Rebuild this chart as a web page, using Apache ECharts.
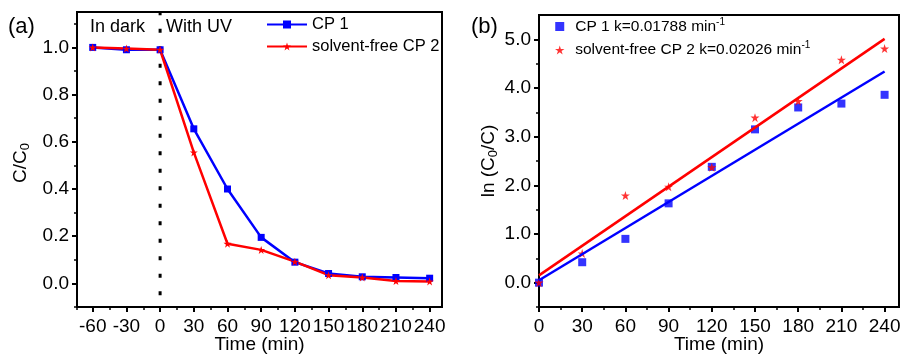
<!DOCTYPE html>
<html>
<head>
<meta charset="utf-8">
<script src="https://cdn.jsdelivr.net/npm/echarts@6/dist/echarts.min.js"></script>
<style>
  html, body { margin: 0; padding: 0; background: #fff; }
  #chart { width: 902px; height: 356px; }
</style>
</head>
<body>
<div id="chart"></div>
<script>
// (a) degradation curves
var times = [-60, -30, 0, 30, 60, 90, 120, 150, 180, 210, 240];
var cp1Ratio = [1.0, 0.99, 0.99, 0.655, 0.40, 0.195, 0.09, 0.042, 0.028, 0.025, 0.022];
var cp2Ratio = [1.0, 0.995, 0.99, 0.555, 0.168, 0.142, 0.092, 0.035, 0.025, 0.01, 0.008];
var darkLine = [[0, -0.05], [0, 1.15]];

// (b) kinetics
var kinTimes = [0, 30, 60, 90, 120, 150, 180, 210, 240];
var cp1Ln = [0, 0.42, 0.9, 1.63, 2.38, 3.15, 3.6, 3.68, 3.86];
var cp2Ln = [0, 0.6, 1.79, 1.97, 2.37, 3.39, 3.73, 4.58, 4.81];
var cp1Fit = [[0, 0.05], [240, 4.34]];
var cp2Fit = [[0, 0.15], [240, 5.01]];
var kCp1 = '0.01788';
var kCp2 = '0.02026';

// tick labels
var xTicksA = [-60, -30, 0, 30, 60, 90, 120, 150, 180, 210, 240];
var xMinorA = [-74, -45, -15, 15, 45, 75, 105, 135, 165, 195, 225];
var yTicksA = [0, 0.2, 0.4, 0.6, 0.8, 1.0];
var yMinorA = [-0.1, 0.1, 0.3, 0.5, 0.7, 0.9, 1.1];
var xTicksB = [0, 30, 60, 90, 120, 150, 180, 210, 240];
var xMinorB = [15, 45, 75, 105, 135, 165, 195, 225];
var yTicksB = [0, 1, 2, 3, 4, 5];
var yMinorB = [-0.5, 0.5, 1.5, 2.5, 3.5, 4.5];

var nameA1 = 'CP 1';
var nameA2 = 'solvent-free CP 2';
var nameB1 = 'CP 1 k=' + kCp1 + ' min';
var nameB2 = 'solvent-free CP 2 k=' + kCp2 + ' min';

var FONT = '"Liberation Sans", Arial, sans-serif';
var BLUE = '#0000ff';
var RED = '#ff0000';
var STAR = 'path://M50,2 L61.8,38.2 L99.9,38.2 L69.1,60.6 L80.9,96.8 L50,74.4 L19.1,96.8 L30.9,60.6 L0.1,38.2 L38.2,38.2 Z';
var SQUARE = 'path://M0,0 L10,0 L10,10 L0,10 Z';

function zip(xs, ys) {
  return xs.map(function (x, i) { return [x, ys[i]]; });
}

var subRich = {
  sub: { fontSize: 13, fontFamily: FONT, color: '#000', padding: [9, 0, 0, 0] }
};

function mainAxis(gridIndex, min, max, ticks, isY, name) {
  return {
    type: 'value',
    gridIndex: gridIndex,
    min: min,
    max: max,
    position: isY ? 'left' : 'bottom',
    splitLine: { show: false },
    axisLine: { show: true, onZero: false, lineStyle: { color: '#000', width: 2 } },
    axisTick: { show: true, customValues: ticks, length: 5, lineStyle: { color: '#000', width: 2 } },
    axisLabel: {
      customValues: ticks,
      margin: isY ? 8 : 10,
      color: '#000',
      fontSize: 19,
      fontFamily: FONT,
      formatter: isY ? function (v) { return v.toFixed(1); } : function (v) { return String(v); }
    },
    name: name,
    nameLocation: 'middle',
    nameMoveOverlap: false,
    nameGap: isY ? 45 : 28,
    nameRotate: isY ? 90 : 0,
    nameTextStyle: { color: '#000', fontSize: 19, fontFamily: FONT, rich: subRich }
  };
}

function minorAxis(gridIndex, min, max, ticks, isY) {
  return {
    type: 'value',
    gridIndex: gridIndex,
    min: min,
    max: max,
    position: isY ? 'left' : 'bottom',
    splitLine: { show: false },
    axisLine: { show: false, onZero: false },
    axisTick: { show: true, customValues: ticks, length: 3, lineStyle: { color: '#000', width: 1.5 } },
    axisLabel: { show: false }
  };
}

var xA = mainAxis(0, -74, 251, xTicksA, false, 'Time (min)');
var yA = mainAxis(0, -0.1, 1.15, yTicksA, true, 'C/C{sub|0}');
yA.nameTextStyle.padding = [0, 7, 0, 0];
var xB = mainAxis(1, 0, 250, xTicksB, false, 'Time (min)');
var yB = mainAxis(1, -0.5, 5.5, yTicksB, true, 'ln (C{sub|0}/C)');
yB.nameGap = 39;

var chart = echarts.init(document.getElementById('chart'));
chart.setOption({
  backgroundColor: '#fff',
  animation: false,
  textStyle: { fontFamily: FONT },
  grid: [
    { left: 77, top: 12, width: 365, height: 295, show: true, borderColor: '#000', borderWidth: 2, outerBoundsMode: 'none', containLabel: false },
    { left: 539, top: 15, width: 360, height: 292, show: true, borderColor: '#000', borderWidth: 2, outerBoundsMode: 'none', containLabel: false }
  ],
  xAxis: [xA, minorAxis(0, -74, 251, xMinorA, false), xB, minorAxis(1, 0, 250, xMinorB, false)],
  yAxis: [yA, minorAxis(0, -0.1, 1.15, yMinorA, true), yB, minorAxis(1, -0.5, 5.5, yMinorB, true)],
  legend: [
    {
      data: [nameA1, nameA2],
      orient: 'vertical',
      left: 266,
      top: 16,
      itemWidth: 40,
      itemHeight: 10,
      itemGap: 5,
      padding: 0,
      textStyle: { color: '#000', fontSize: 16.5, fontFamily: FONT }
    },
    {
      data: [nameB1, nameB2],
      orient: 'vertical',
      left: 555,
      top: 17,
      itemWidth: 21,
      itemHeight: 9,
      itemGap: 6,
      padding: 0,
      formatter: function (n) { return n + '{sup|-1}'; },
      textStyle: {
        color: '#000', fontSize: 15.5, fontFamily: FONT,
        rich: { sup: { fontSize: 10, fontFamily: FONT, color: '#000', padding: [0, 0, 9, 0] } }
      }
    }
  ],
  graphic: [
    { type: 'text', left: 8, top: 16, style: { text: '(a)', fontSize: 22, fontFamily: FONT, fill: '#000' } },
    { type: 'text', left: 471, top: 16, style: { text: '(b)', fontSize: 22, fontFamily: FONT, fill: '#000' } },
    { type: 'text', left: 90, top: 18, style: { text: 'In dark', fontSize: 18, fontFamily: FONT, fill: '#000' } },
    { type: 'text', left: 166, top: 18, style: { text: 'With UV', fontSize: 18, fontFamily: FONT, fill: '#000' } }
  ],
  series: [
    {
      name: 'divider',
      type: 'line',
      xAxisIndex: 0,
      yAxisIndex: 0,
      data: darkLine,
      symbol: 'none',
      silent: true,
      lineStyle: { color: '#000', width: 3, type: [4, 13.5] }
    },
    {
      name: nameA1,
      type: 'line',
      xAxisIndex: 0,
      yAxisIndex: 0,
      data: zip(times, cp1Ratio),
      symbol: 'rect',
      symbolSize: 7,
      itemStyle: { color: BLUE },
      lineStyle: { color: BLUE, width: 2.5 }
    },
    {
      name: nameA2,
      type: 'line',
      xAxisIndex: 0,
      yAxisIndex: 0,
      data: zip(times, cp2Ratio),
      symbol: STAR,
      symbolSize: 8,
      itemStyle: { color: RED },
      lineStyle: { color: RED, width: 2.5 }
    },
    {
      name: 'fit1',
      type: 'line',
      xAxisIndex: 2,
      yAxisIndex: 2,
      data: cp1Fit,
      symbol: 'none',
      lineStyle: { color: BLUE, width: 2.5 }
    },
    {
      name: 'fit2',
      type: 'line',
      xAxisIndex: 2,
      yAxisIndex: 2,
      data: cp2Fit,
      symbol: 'none',
      lineStyle: { color: RED, width: 2.5 }
    },
    {
      name: nameB1,
      type: 'scatter',
      xAxisIndex: 2,
      yAxisIndex: 2,
      data: zip(kinTimes, cp1Ln),
      symbol: SQUARE,
      symbolSize: 8,
      itemStyle: { color: BLUE }
    },
    {
      name: nameB2,
      type: 'scatter',
      xAxisIndex: 2,
      yAxisIndex: 2,
      data: zip(kinTimes, cp2Ln),
      symbol: STAR,
      symbolSize: 9,
      itemStyle: { color: RED }
    }
  ]
});
</script>
</body>
</html>
